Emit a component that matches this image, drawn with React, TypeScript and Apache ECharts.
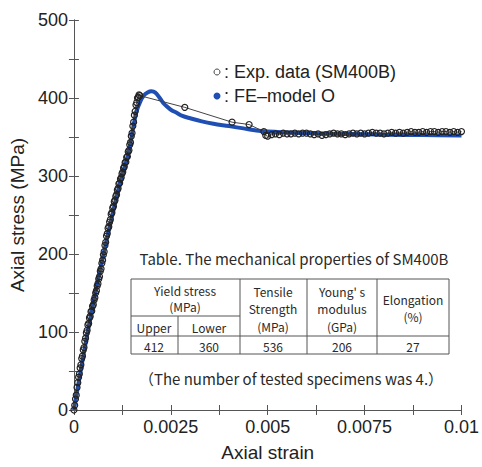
import React, { useEffect, useRef } from "react";
import * as echarts from "echarts";

// Experimental data (SM400B): strain, stress (MPa)
const expStrain = [
  0, 0.00002, 0.00004, 0.00006, 0.00008, 0.0001, 0.00012, 0.00014, 0.00016, 0.00018,
  0.0002, 0.00022, 0.00024, 0.00026, 0.00028, 0.0003, 0.00032, 0.00034, 0.00036, 0.00038,
  0.0004, 0.00042, 0.00044, 0.00046, 0.00048, 0.0005, 0.00052, 0.00054, 0.00056, 0.00058,
  0.0006, 0.00062, 0.00064, 0.00066, 0.00068, 0.0007, 0.00072, 0.00074, 0.00076, 0.00078,
  0.0008, 0.00082, 0.00084, 0.00086, 0.00088, 0.0009, 0.00092, 0.00094, 0.00096, 0.00098,
  0.001, 0.00102, 0.00104, 0.00106, 0.00108, 0.0011, 0.00112, 0.00114, 0.00116, 0.00118,
  0.0012, 0.00122, 0.00124, 0.00126, 0.00128, 0.0013, 0.00132, 0.00134, 0.00136, 0.00138,
  0.0014, 0.00142, 0.00144, 0.00146, 0.00148, 0.0015, 0.00152, 0.00154, 0.00156, 0.00158,
  0.0016, 0.00162, 0.00164, 0.00166, 0.00168, 0.0017,
  0.00286, 0.00408, 0.00452, 0.0049, 0.00495, 0.005, 0.0051, 0.0052, 0.0053, 0.0054, 0.0055,
  0.0056, 0.0057, 0.0058, 0.0059, 0.006, 0.0061, 0.0062, 0.0063, 0.0064, 0.0065,
  0.0066, 0.0067, 0.0068, 0.0069, 0.007, 0.0071, 0.0072, 0.0073, 0.0074, 0.0075,
  0.0076, 0.0077, 0.0078, 0.0079, 0.008, 0.0081, 0.0082, 0.0083, 0.0084, 0.0085,
  0.0086, 0.0087, 0.0088, 0.0089, 0.009, 0.0091, 0.0092, 0.0093, 0.0094, 0.0095,
  0.0096, 0.0097, 0.0098, 0.0099, 0.01
];
const expStress = [
  0, 6, 14, 19, 29, 35, 42, 46, 54, 58,
  66, 69, 77, 80, 88, 92, 99, 102, 109, 111,
  118, 120, 126, 127, 133, 135, 141, 144, 150, 153,
  159, 162, 168, 171, 178, 181, 188, 192, 199, 203,
  211, 215, 223, 226, 233, 235, 241, 244, 251, 253,
  259, 261, 267, 269, 274, 276, 282, 284, 290, 291,
  296, 298, 303, 305, 310, 312, 317, 318, 324, 325,
  331, 333, 340, 343, 351, 355, 364, 369, 378, 383,
  391, 394, 400, 401, 404, 403,
  388, 369, 366, 357, 352, 351, 353, 354, 353, 355, 354,
  354, 355, 354, 355, 355, 354, 353, 354, 352, 353,
  354, 355, 354, 354, 353, 354, 355, 354, 355, 354,
  355, 356, 355, 355, 354, 355, 356, 355, 356, 355,
  356, 357, 356, 356, 357, 356, 357, 357, 356, 357,
  357, 356, 357, 356, 357
];

// FE-model O
const feStrain = [
  0, 0.0004, 0.0008, 0.0012, 0.0014, 0.0016, 0.0017, 0.0018, 0.0019, 0.002,
  0.0021, 0.0022, 0.0023, 0.0024, 0.0025, 0.00265, 0.0028, 0.003, 0.0033, 0.0036,
  0.004, 0.0045, 0.005, 0.006, 0.007, 0.008, 0.009, 0.01
];
const feStress = [
  0, 112, 208, 294, 328, 380, 394, 403, 407, 408.5,
  407, 401, 394, 389, 385, 381, 377, 374, 370, 367,
  364, 360, 357, 355, 354, 353, 352.5, 352
];

const xTicks = ["0", "0.0025", "0.005", "0.0075", "0.01"];
const tableTitle = "Table. The mechanical properties of SM400B";
const tableNote = "（The number of tested specimens was 4.）";
const tableValues = ["412", "360", "536", "206", "27"];

const BLUE = "#1f4fb3";
const AXIS = "#555";
const TFONT = "'Noto Sans CJK JP', 'Noto Sans', sans-serif";

export default function App() {
  const ref = useRef<HTMLDivElement>(null);
  useEffect(() => {
    if (!ref.current) return;
    const chart = echarts.init(ref.current, undefined, { renderer: "svg" });
    const expData = expStrain.map((s, i) => [s, expStress[i]]);
    const feData = feStrain.map((s, i) => [s, feStress[i]]);

    const xFmt = (v: number) => {
      const k = Math.round(v / 0.00125);
      if (k % 2 !== 0) return "";
      return xTicks[k / 2] ?? "";
    };
    const yFmt = (v: number) => (Math.round(v) % 100 === 0 ? String(Math.round(v)) : "");

    const tick = { show: true, inside: true, length: 5, lineStyle: { color: AXIS } };
    const line = { show: true, lineStyle: { color: AXIS, width: 1 } };
    const font = "'Liberation Sans', Arial, sans-serif";

    const txt = (x: number, y: number, text: string, size = 12, extra: any = {}) => ({
      type: "text",
      x,
      y,
      style: {
        text,
        fill: "#2a2a2a",
        font: `${size}px ${TFONT}`,
        lineHeight: size,
        align: "center",
        verticalAlign: "middle",
        ...extra,
      },
      silent: true,
    });
    const ln = (x1: number, y1: number, x2: number, y2: number) => ({
      type: "line",
      shape: { x1, y1, x2, y2 },
      style: { stroke: "#555", lineWidth: 1 },
      silent: true,
    });

    chart.setOption({
      animation: false,
      backgroundColor: "#fff",
      grid: { left: 73, top: 20, right: 17, bottom: 55 },
      xAxis: [
        {
          type: "value",
          min: 0,
          max: 0.01,
          interval: 0.00125,
          axisLine: line,
          axisTick: tick,
          splitLine: { show: false },
          axisLabel: { formatter: xFmt, color: "#222", fontSize: 18, fontFamily: font, margin: 8 },
          name: "Axial strain",
          nameLocation: "middle",
          nameGap: 33,
          nameTextStyle: { fontSize: 19, fontFamily: font, color: "#222" },
        },
        {
          type: "value",
          position: "top",
          min: 0,
          max: 0.01,
          interval: 0.00125,
          axisLine: line,
          axisTick: tick,
          axisLabel: { show: false },
          splitLine: { show: false },
        },
      ],
      yAxis: [
        {
          type: "value",
          min: 0,
          max: 500,
          interval: 50,
          axisLine: line,
          axisTick: tick,
          splitLine: { show: false },
          axisLabel: { formatter: yFmt, color: "#222", fontSize: 18, fontFamily: font, margin: 6 },
          name: "Axial stress (MPa)",
          nameLocation: "middle",
          nameGap: 38,
          nameTextStyle: { fontSize: 19, fontFamily: font, color: "#222" },
        },
        {
          type: "value",
          position: "right",
          min: 0,
          max: 500,
          interval: 50,
          axisLine: line,
          axisTick: tick,
          axisLabel: { show: false },
          splitLine: { show: false },
        },
      ],
      series: [
        {
          name: "FE-model O",
          type: "line",
          data: feData,
          smooth: 0.35,
          showSymbol: false,
          lineStyle: { color: BLUE, width: 4 },
          itemStyle: { color: BLUE },
          z: 2,
        },
        {
          name: "Exp. data (SM400B)",
          type: "line",
          data: expData,
          showSymbol: true,
          showAllSymbol: true,
          symbol: "circle",
          symbolSize: 6,
          lineStyle: { color: "#444", width: 1 },
          itemStyle: { color: "rgba(255,255,255,0)", borderColor: "#222", borderWidth: 1.2 },
          z: 3,
        },
      ],
      graphic: [
        { type: "circle", shape: { cx: 217, cy: 72, r: 3 }, style: { fill: "#fff", stroke: "#444", lineWidth: 1 }, silent: true },
        {
          type: "text", x: 224, y: 72,
          style: { text: ": Exp. data (SM400B)", fill: "#222", font: `18px ${font}`, verticalAlign: "middle", align: "left" },
          silent: true,
        },
        { type: "circle", shape: { cx: 217, cy: 96, r: 3.5 }, style: { fill: BLUE }, silent: true },
        {
          type: "text", x: 224, y: 96,
          style: { text: ": FE\u2013model O", fill: "#222", font: `18px ${font}`, verticalAlign: "middle", align: "left" },
          silent: true,
        },
        txt(294, 258, tableTitle, 15),
        { type: "rect", shape: { x: 131, y: 279, width: 318, height: 75 }, style: { fill: "#fff", stroke: "#555", lineWidth: 1 }, silent: true },
        ln(131, 316, 240, 316),
        ln(131, 336, 449, 336),
        ln(178, 316, 178, 354),
        ln(240, 279, 240, 354),
        ln(307, 279, 307, 354),
        ln(377, 279, 377, 354),
        txt(185, 290, "Yield stress"),
        txt(185, 306, "(MPa)"),
        txt(154, 327, "Upper"),
        txt(209, 327, "Lower"),
        txt(273, 291, "Tensile"),
        txt(273, 308, "Strength"),
        txt(273, 326, "(MPa)"),
        txt(342, 291, "Young' s"),
        txt(342, 308, "modulus"),
        txt(342, 326, "(GPa)"),
        txt(413, 299, "Elongation"),
        txt(413, 316, "(%)"),
        txt(154, 346, tableValues[0]),
        txt(209, 346, tableValues[1]),
        txt(273, 346, tableValues[2]),
        txt(342, 346, tableValues[3]),
        txt(413, 346, tableValues[4]),
        txt(291, 378, tableNote, 15),
      ],
    });
    return () => chart.dispose();
  }, []);
  return <div ref={ref} style={{ width: 482, height: 467, position: "absolute", left: 0, top: 0 }} />;
}
